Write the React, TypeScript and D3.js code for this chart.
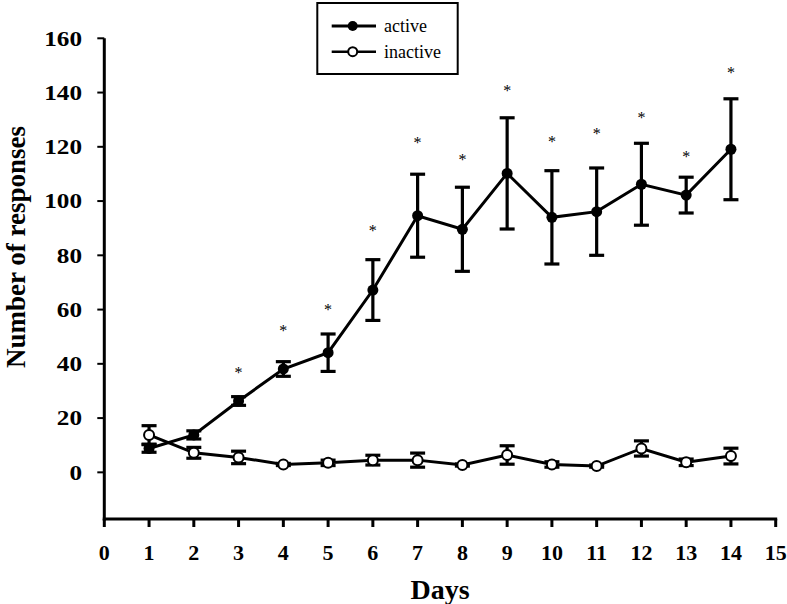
import React from "react";
import * as d3 from "d3";

const days = [1, 2, 3, 4, 5, 6, 7, 8, 9, 10, 11, 12, 13, 14];
const activeMean = [8.8, 13.8, 26.3, 38.1, 44.1, 67.2, 94.6, 89.6, 110.2, 94, 96.1, 106.2, 102.2, 119.1];
const activeErr = [1.4, 1.5, 1.6, 2.7, 6.9, 11.2, 15.3, 15.5, 20.5, 17.2, 16.1, 15.1, 6.6, 18.6];
const inactiveMean = [13.8, 7.2, 5.5, 2.9, 3.5, 4.5, 4.5, 2.7, 6.4, 2.9, 2.3, 8.8, 3.7, 6.0];
const inactiveErr = [3.4, 2.0, 2.3, 0.4, 1.0, 1.8, 2.6, 0.4, 3.4, 1.0, 0.4, 2.8, 1.2, 2.9];
const starDays = [3, 4, 5, 6, 7, 8, 9, 10, 11, 12, 13, 14];
const starValues = [37.1, 52.5, 60.1, 89.3, 121.8, 115.4, 140.9, 122.3, 125.2, 130.9, 116.7, 147.5];
const xTicks = [0, 1, 2, 3, 4, 5, 6, 7, 8, 9, 10, 11, 12, 13, 14, 15];
const yTicks = [0, 20, 40, 60, 80, 100, 120, 140, 160];
const seriesNames = ["active", "inactive"];

const W = 787;
const H = 604;
const FONT = "'Liberation Serif', 'Times New Roman', serif";

export default function App() {
  const x = d3.scaleLinear().domain([0, 15]).range([104.3, 775.7]);
  const y = d3.scaleLinear().domain([-17.2, 160]).range([519, 38.3]);

  const line = d3
    .line<number>()
    .x((_, i) => x(days[i]))
    .y((d) => y(d));

  const errBars = (means: number[], errs: number[], key: string) =>
    means.map((m, i) => {
      const cx = x(days[i]);
      const y1 = y(m + errs[i]);
      const y2 = y(m - errs[i]);
      return (
        <g key={key + i} stroke="#000" strokeWidth={3.2}>
          <line x1={cx} x2={cx} y1={y1} y2={y2} />
          <line x1={cx - 7.5} x2={cx + 7.5} y1={y1} y2={y1} />
          <line x1={cx - 7.5} x2={cx + 7.5} y1={y2} y2={y2} />
        </g>
      );
    });

  return (
    <svg
      width={W}
      height={H}
      style={{ position: "absolute", left: 0, top: 0, background: "#fff" }}
      fontFamily={FONT}
    >
      <rect x={0} y={0} width={W} height={H} fill="#fff" />

      {/* axes */}
      <line x1={x(0)} x2={x(0)} y1={y(160)} y2={y(-17.2) + 1.5} stroke="#000" strokeWidth={3} />
      <line x1={x(0) - 1.5} x2={x(15) + 1.5} y1={y(-17.2)} y2={y(-17.2)} stroke="#000" strokeWidth={3} />
      {yTicks.map((t) => (
        <g key={"yt" + t}>
          <line x1={x(0) - 7} x2={x(0)} y1={y(t)} y2={y(t)} stroke="#000" strokeWidth={2} />
          <text
            transform={`translate(82,${y(t)}) scale(1.2,1)`}
            textAnchor="end"
            dominantBaseline="central"
            fontWeight="bold"
            fontSize={21}
          >
            {t}
          </text>
        </g>
      ))}
      {xTicks.map((t) => (
        <g key={"xt" + t}>
          <line x1={x(t)} x2={x(t)} y1={y(-17.2)} y2={y(-17.2) + 8} stroke="#000" strokeWidth={3} />
          <text
            x={x(t)}
            y={552}
            textAnchor="middle"
            dominantBaseline="central"
            fontWeight="bold"
            fontSize={22}
          >
            {t}
          </text>
        </g>
      ))}
      <text x={440} y={589} textAnchor="middle" dominantBaseline="central" fontWeight="bold" fontSize={28}>
        Days
      </text>
      <text
        transform={`translate(16,247) rotate(-90)`}
        textAnchor="middle"
        dominantBaseline="central"
        fontWeight="bold"
        fontSize={27}
      >
        Number of responses
      </text>

      {/* active series */}
      <path d={line(activeMean) || ""} fill="none" stroke="#000" strokeWidth={3} />
      {errBars(activeMean, activeErr, "ae")}
      {activeMean.map((m, i) => (
        <circle key={"am" + i} cx={x(days[i])} cy={y(m)} r={5.5} fill="#000" />
      ))}

      {/* inactive series */}
      <path d={line(inactiveMean) || ""} fill="none" stroke="#000" strokeWidth={3} />
      {errBars(inactiveMean, inactiveErr, "ie")}
      {inactiveMean.map((m, i) => (
        <circle key={"im" + i} cx={x(days[i])} cy={y(m)} r={5} fill="#fff" stroke="#000" strokeWidth={2} />
      ))}

      {/* significance stars */}
      {starDays.map((d, i) => (
        <text key={"s" + i} x={x(d)} y={y(starValues[i]) + 6} textAnchor="middle" fontSize={16} fill="#000">
          *
        </text>
      ))}

      {/* legend */}
      <rect x={317.3} y={3} width={140.4} height={71} fill="#fff" stroke="#000" strokeWidth={2} />
      <line x1={331.7} x2={376} y1={26} y2={26} stroke="#000" strokeWidth={3} />
      <circle cx={352.7} cy={26} r={5} fill="#000" />
      <text x={384} y={26} dominantBaseline="central" fontSize={18}>
        {seriesNames[0]}
      </text>
      <line x1={331.7} x2={376} y1={51.7} y2={51.7} stroke="#000" strokeWidth={2.5} />
      <circle cx={352.7} cy={51.7} r={4.5} fill="#fff" stroke="#000" strokeWidth={2} />
      <text x={384} y={51.7} dominantBaseline="central" fontSize={18}>
        {seriesNames[1]}
      </text>
    </svg>
  );
}
